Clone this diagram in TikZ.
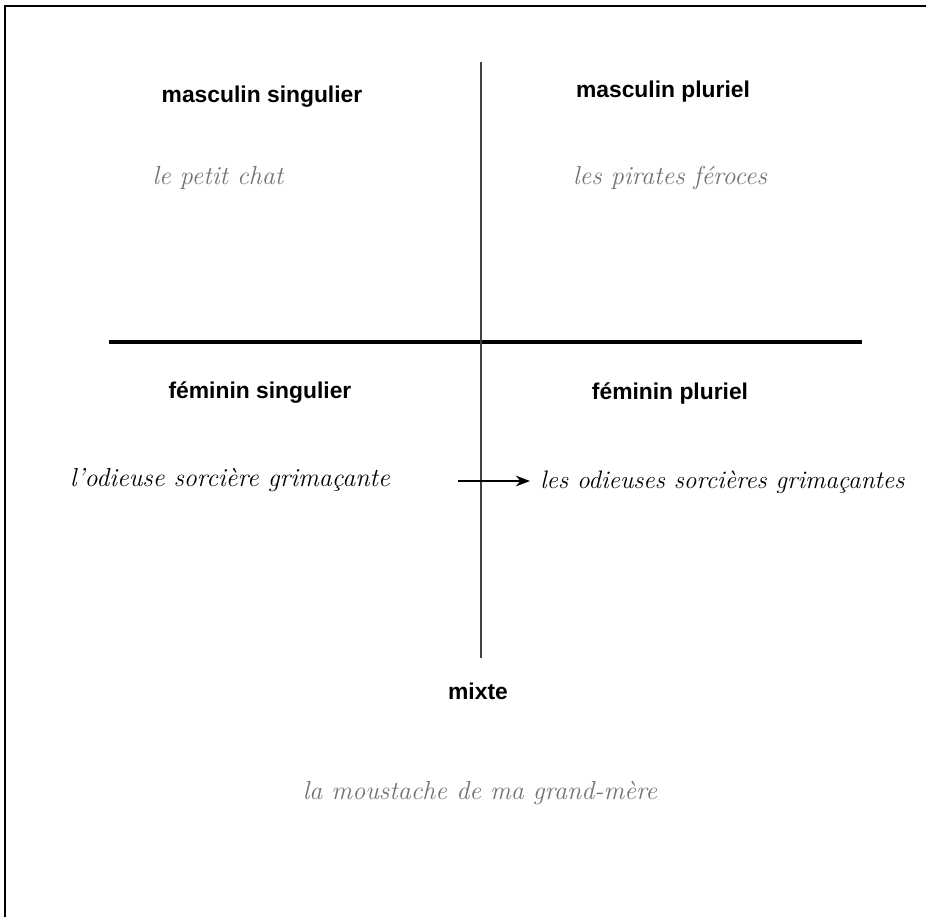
\documentclass[tikz,border=0pt]{standalone}
\usepackage{fontspec}
\setsansfont{Liberation Sans}
\usetikzlibrary{arrows.meta}
\begin{document}
\begin{tikzpicture}[x=0.02cm,y=-0.02cm]
 	\def \rowoneht{97}
 	\def \rowtwoht{393}
 	\tikzstyle{title}=[font=\sffamily\bfseries\fontsize{13}{15}\selectfont,inner sep=0pt]
 	\tikzstyle{cursive-pale}=[font=\itshape\fontsize{14.8}{17}\selectfont,text=black!55,inner sep=0pt]
 	\tikzstyle{cursive-dark}=[font=\itshape\fontsize{14.8}{17}\selectfont,text=black,inner sep=0pt]
 	\useasboundingbox (0,0) rectangle (926,917);
 	% frame (top and left edges)
 	\draw[line width=1.5pt] (5,917) -- (5,6) -- (926,6);
 	% cross
 	\coordinate (h-left) at (109,342);
 	\coordinate (h-right) at (862,342);
 	\coordinate (v-top) at (481,62);
 	\coordinate (v-bottom) at (481,658);
 	\draw[line width=2pt] (h-left) -- (h-right);
 	\draw[line width=1pt,black!75] (v-top) -- (v-bottom);
 	% headings
 	\node[title] (ms-label) at (262,\rowoneht) {masculin singulier};
 	\node[title] (mp-label) at (663,92) {masculin pluriel};
 	\node[title] (fs-label) at (260,\rowtwoht) {féminin singulier};
 	\node[title] (fp-label) at (670,\rowtwoht) {féminin pluriel};
 	\node[title] (mx-label) at (478,691) {mixte};
 	% examples
 	\node[cursive-pale] (ms-text) at (218,178) {le petit chat};
 	\node[cursive-pale] (mp-text) at (670,178) {les pirates féroces};
 	\node[cursive-dark] (fs-text) at (230,480) {l'odieuse sorcière grimaçante};
 	\node[cursive-dark,anchor=west,font=\itshape\fontsize{14.4}{17}\selectfont] (fp-text) at (540,482) {les odieuses sorcières grimaçantes};
 	\node[cursive-pale] (mx-text) at (480,793) {la moustache de ma grand-mère};
 	\coordinate (arr-start) at (458,481);
 	\draw[line width=1.4pt,-{Stealth[length=8pt]},shorten >=0.2cm] (arr-start) -- (fp-text.west |- arr-start);
\end{tikzpicture}
\end{document}
